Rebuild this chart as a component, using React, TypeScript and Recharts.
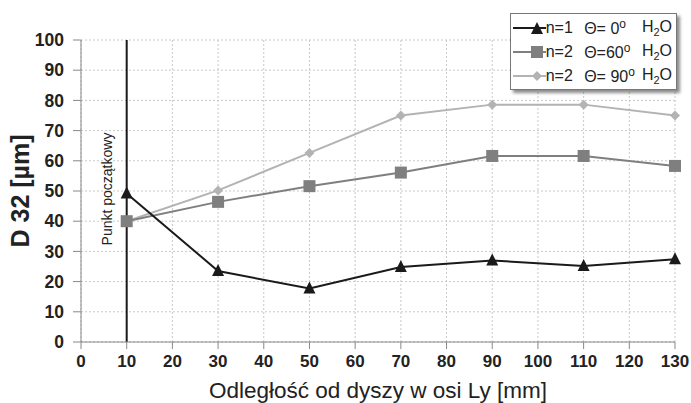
import React from "react";
import {
  LineChart,
  Line,
  XAxis,
  YAxis,
  CartesianGrid,
  ReferenceLine,
  Label,
} from "recharts";

const distances = [10, 30, 50, 70, 90, 110, 130];
const n1Theta0 = [49.2, 23.5, 17.7, 24.8, 27.0, 25.2, 27.4];
const n2Theta60 = [40.0, 46.4, 51.6, 56.1, 61.6, 61.6, 58.3];
const n2Theta90 = [40.0, 50.2, 62.6, 75.0, 78.6, 78.6, 75.0];
const xTicks = [0, 10, 20, 30, 40, 50, 60, 70, 80, 90, 100, 110, 120, 130];
const yTicks = [0, 10, 20, 30, 40, 50, 60, 70, 80, 90, 100];
const startPoint = 10;

const data = distances.map((d, i) => ({
  x: d,
  a: n1Theta0[i],
  b: n2Theta60[i],
  c: n2Theta90[i],
}));

const FONT = "'Liberation Sans', Arial, sans-serif";

const Triangle = (props: any) => {
  const { cx, cy, fill } = props;
  if (cx == null || cy == null) return null;
  return (
    <polygon
      points={`${cx},${cy - 7} ${cx - 6},${cy + 5} ${cx + 6},${cy + 5}`}
      fill={fill}
    />
  );
};

const Square = (props: any) => {
  const { cx, cy, fill } = props;
  if (cx == null || cy == null) return null;
  return <rect x={cx - 6} y={cy - 6} width={12} height={12} fill={fill} />;
};

const Diamond = (props: any) => {
  const { cx, cy, fill } = props;
  if (cx == null || cy == null) return null;
  return (
    <polygon
      points={`${cx},${cy - 5} ${cx + 5},${cy} ${cx},${cy + 5} ${cx - 5},${cy}`}
      fill={fill}
    />
  );
};

const legendRows = [
  { n: "n=1", theta: " 0", color: "#1a1a1a", marker: "tri" },
  { n: "n=2", theta: "60", color: "#7f7f7f", marker: "sq" },
  { n: "n=2", theta: " 90", color: "#b3b3b3", marker: "dia" },
];

function LegendBox() {
  return (
    <div
      style={{
        position: "absolute",
        left: 510,
        top: 13,
        boxSizing: "border-box",
        border: "1px solid #777",
        background: "#fff",
        boxShadow: "3px 3px 3px rgba(0,0,0,0.45)",
        padding: "2px 4px 2px 2px",
        fontFamily: FONT,
        fontSize: 16,
        color: "#222",
        width: 167,
        height: 77,
      }}
    >
      {legendRows.map((r, i) => (
        <div key={i} style={{ display: "flex", alignItems: "center", height: 24 }}>
          <svg width={34} height={14}>
            <line x1={0} y1={7} x2={34} y2={7} stroke={r.color} strokeWidth={2} />
            {r.marker === "tri" && <Triangle cx={24} cy={8} fill={r.color} />}
            {r.marker === "sq" && <Square cx={24} cy={7} fill={r.color} />}
            {r.marker === "dia" && <Diamond cx={24} cy={7} fill={r.color} />}
          </svg>
          <span style={{ width: 40 }}>{r.n}</span>
          <span style={{ width: 60, whiteSpace: "pre" }}>
            Θ={r.theta}
            <sup style={{ fontSize: 12 }}>o</sup>
          </span>
          <span>
            H<sub style={{ fontSize: 11 }}>2</sub>O
          </span>
        </div>
      ))}
    </div>
  );
}

export default function App() {
  return (
    <div
      style={{
        position: "absolute",
        left: 0,
        top: 0,
        width: 691,
        height: 403,
        background: "#fff",
      }}
    >
      <LineChart
        width={691}
        height={403}
        data={data}
        margin={{ top: 40, right: 16, left: 0, bottom: 0 }}
      >
        <CartesianGrid stroke="#c8c8c8" strokeDasharray="2 2" />
        <XAxis
          dataKey="x"
          type="number"
          domain={[0, 130]}
          ticks={xTicks}
          interval={0}
          height={61}
          stroke="#888"
          tickSize={7}
          tickMargin={6}
          tick={{ fill: "#222", fontSize: 17, fontFamily: FONT, fontWeight: 700 }}
        >
          <Label
            value="Odległość od dyszy w osi Ly [mm]"
            position="insideBottom"
            offset={5}
            style={{ fill: "#222", fontSize: 22.5, fontFamily: FONT }}
          />
        </XAxis>
        <YAxis
          domain={[0, 100]}
          ticks={yTicks}
          interval={0}
          width={81}
          stroke="#888"
          tickSize={8}
          tickMargin={9}
          tick={{ fill: "#222", fontSize: 17.5, fontFamily: FONT, fontWeight: 700 }}
        >
          <Label
            value="D 32  [µm]"
            angle={-90}
            position="insideLeft"
            offset={20}
            style={{
              fill: "#222",
              fontSize: 25,
              fontFamily: FONT,
              fontWeight: 700,
              textAnchor: "middle",
            }}
          />
        </YAxis>
        <ReferenceLine
          x={startPoint}
          stroke="#1a1a1a"
          strokeWidth={2}
          label={(p: any) => {
            const vb = p.viewBox || {};
            const lx = vb.x - 18;
            const ly = 189;
            return (
              <text
                x={lx}
                y={ly}
                transform={`rotate(-90 ${lx} ${ly})`}
                textAnchor="middle"
                dominantBaseline="middle"
                fontFamily={FONT}
                fontSize={14}
                fill="#222"
              >
                Punkt początkowy
              </text>
            );
          }}
        />
        <Line
          dataKey="c"
          stroke="#b3b3b3"
          strokeWidth={2}
          dot={<Diamond fill="#b3b3b3" />}
          isAnimationActive={false}
        />
        <Line
          dataKey="b"
          stroke="#7f7f7f"
          strokeWidth={2}
          dot={<Square fill="#7f7f7f" />}
          isAnimationActive={false}
        />
        <Line
          dataKey="a"
          stroke="#1a1a1a"
          strokeWidth={2}
          dot={<Triangle fill="#1a1a1a" />}
          isAnimationActive={false}
        />
      </LineChart>
      <LegendBox />
    </div>
  );
}
